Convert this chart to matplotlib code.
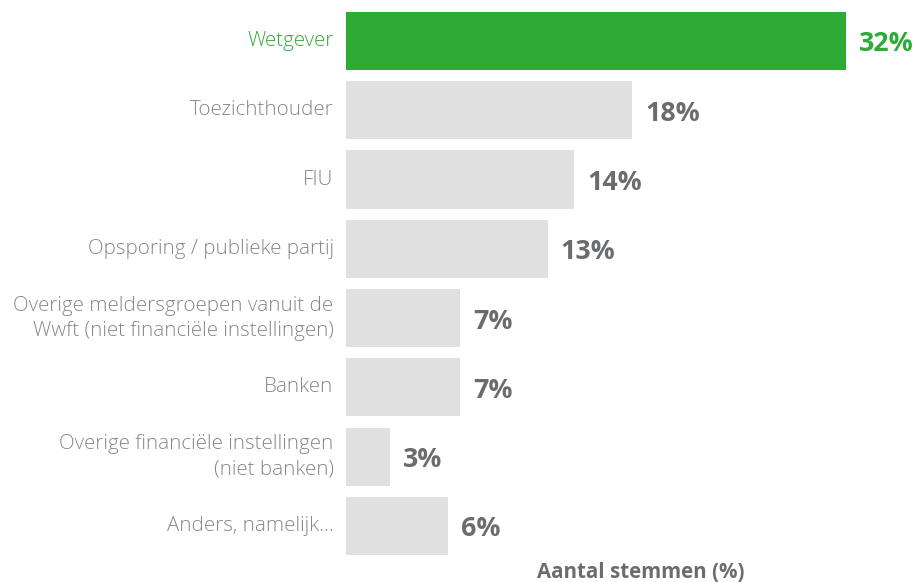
import matplotlib
matplotlib.use("Agg")
import matplotlib.pyplot as plt

categories = [
    "Wetgever",
    "Toezichthouder",
    "FIU",
    "Opsporing / publieke partij",
    "Overige meldersgroepen vanuit de\nWwft (niet financiële instellingen)",
    "Banken",
    "Overige financiële instellingen\n(niet banken)",
    "Anders, namelijk...",
]
values = [32.0, 18.3, 14.6, 12.9, 7.3, 7.3, 2.8, 6.5]
value_labels = ["32%", "18%", "14%", "13%", "7%", "7%", "3%", "6%"]
highlight = "Wetgever"
xlabel = "Aantal stemmen (%)"

GREEN = "#2eaa36"
GREY_BAR = "#e0e0e0"
LABEL_GREY = "#87878a"
VALUE_GREY = "#6b6c70"

W, H = 917, 582
fig = plt.figure(figsize=(W / 100, H / 100), dpi=100)
left, right = 346 / W, 846 / W
top_px, bot_px = 6.35, 560.6
ax = fig.add_axes([left, 1 - bot_px / H, right - left, (bot_px - top_px) / H])

ypos = list(range(len(categories)))
colors = [GREEN if c == highlight else GREY_BAR for c in categories]
ax.barh(ypos, values, height=0.84, color=colors, edgecolor="none")
ax.set_xlim(0, 32)
ax.set_ylim(len(categories) - 0.5, -0.5)
for s in ax.spines.values():
    s.set_visible(False)
ax.set_xticks([])
ax.set_yticks([])

for i, (c, v, lab) in enumerate(zip(categories, values, value_labels)):
    hl = c == highlight
    ax.text(-0.8, i, c, ha="right", va="center", fontsize=14.8,
            family="Open Sans", fontweight="light",
            color=GREEN if hl else LABEL_GREY, linespacing=1.32)
    ax.text(v + 0.85, i + 0.05, lab, ha="left", va="center", fontsize=19.3,
            family="Open Sans", fontweight="bold",
            color=GREEN if hl else VALUE_GREY)

fig.text(641 / W, 1 - 572 / H, xlabel, ha="center", va="center",
         fontsize=14.8, family="Open Sans", fontweight="bold", color=VALUE_GREY)

fig.savefig("out.png", dpi=100, facecolor="white")
